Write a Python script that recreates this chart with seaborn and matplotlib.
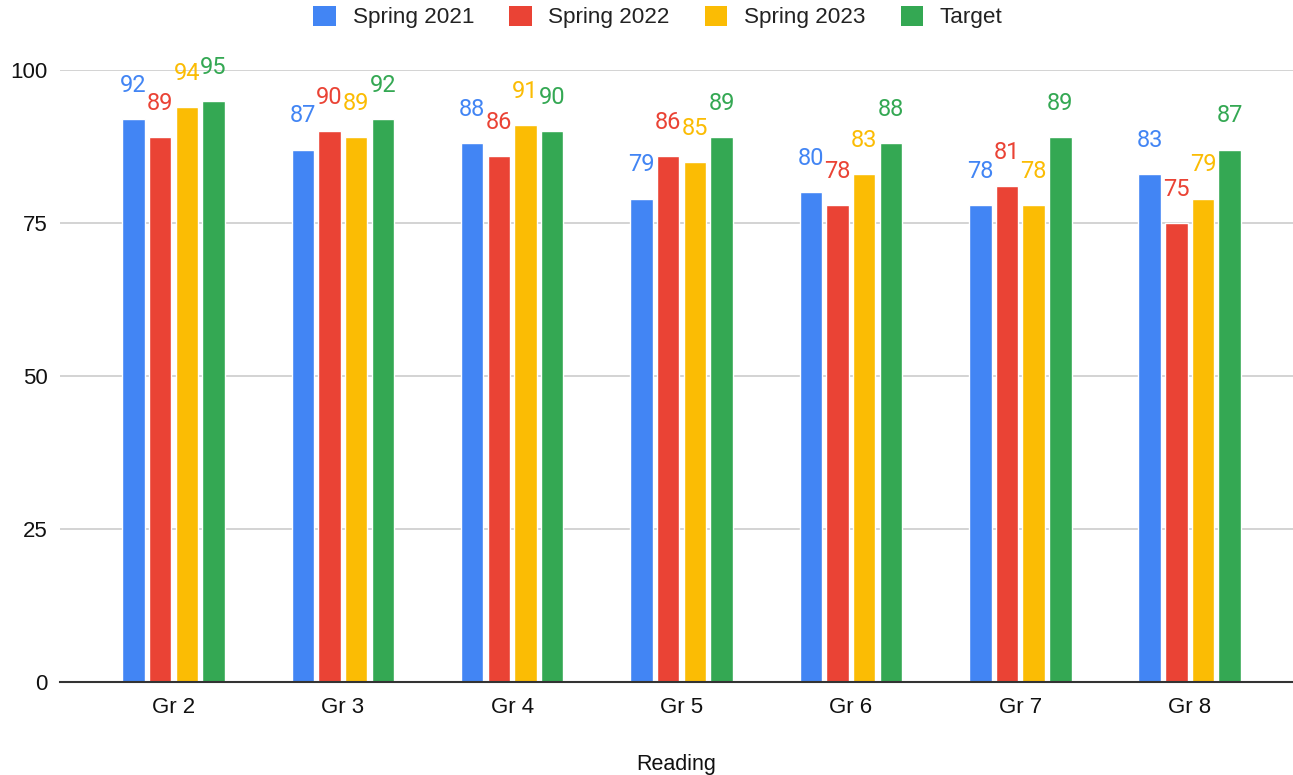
import matplotlib
matplotlib.use("Agg")
import matplotlib.pyplot as plt
from matplotlib.patches import Patch
import seaborn as sns
import pandas as pd

grades = ["Gr 2", "Gr 3", "Gr 4", "Gr 5", "Gr 6", "Gr 7", "Gr 8"]
series_names = ["Spring 2021", "Spring 2022", "Spring 2023", "Target"]
spring_2021 = [92, 87, 88, 79, 80, 78, 83]
spring_2022 = [89, 90, 86, 86, 78, 81, 75]
spring_2023 = [94, 89, 91, 85, 83, 78, 79]
target = [95, 92, 90, 89, 88, 89, 87]
y_ticks = [0, 25, 50, 75, 100]
colors = ["#4285F4", "#EA4335", "#FBBC04", "#34A853"]

rows = []
for name, vals in zip(series_names, [spring_2021, spring_2022, spring_2023, target]):
    for g, v in zip(grades, vals):
        rows.append({"grade": g, "series": name, "value": v})
df = pd.DataFrame(rows)

sns.set_theme(style="white")
plt.rcParams["font.family"] = ["Liberation Sans", "DejaVu Sans"]

fig = plt.figure(figsize=(12.93, 7.75), dpi=100)
ax = fig.add_axes([60 / 1293, 1 - 682 / 775, 1233 / 1293, 612 / 775])

sns.barplot(data=df, x="grade", y="value", hue="series", order=grades,
            hue_order=series_names, palette=colors, width=0.63, gap=0.16,
            saturation=1, ax=ax, legend=False, zorder=3)

ax.set_ylim(0, 100)
ax.set_xlim(-0.67, 6.61)
ax.set_yticks(y_ticks)
ax.yaxis.grid(True, color="#cccccc", linewidth=1.2, zorder=0)
ax.set_axisbelow(True)
for s in ["top", "right", "left"]:
    ax.spines[s].set_visible(False)
ax.spines["bottom"].set_color("#333333")
ax.spines["bottom"].set_linewidth(1.5)
ax.spines["bottom"].set_zorder(4)
ax.tick_params(axis="y", length=0, pad=9, labelsize=16, labelcolor="#111111")
ax.tick_params(axis="x", length=0, pad=11, labelsize=16, labelcolor="#111111")
ax.set_ylabel("")
ax.set_xlabel("Reading", fontsize=15.5, color="#111111", labelpad=26)

# Value labels above each bar, coloured like the series
for container, color in zip(ax.containers, colors):
    for bar, val in zip(container, container.datavalues):
        ax.annotate(f"{val:.0f}", (bar.get_x() + bar.get_width() / 2, val),
                    xytext=(0, 19.5), textcoords="offset points",
                    ha="center", va="baseline", fontsize=17, color=color,
                    family=["Roboto", "DejaVu Sans"], clip_on=False,
                    annotation_clip=False)

handles = [Patch(facecolor=c, edgecolor="none") for c in colors]
fig.legend(handles, series_names, loc="center", bbox_to_anchor=(658 / 1293, 1 - 17 / 775),
           ncol=4, frameon=False, fontsize=16.2, handlelength=1.0, handleheight=1.0,
           handletextpad=0.75, columnspacing=1.55, labelcolor="#222222")

fig.savefig("out.png", dpi=100)
